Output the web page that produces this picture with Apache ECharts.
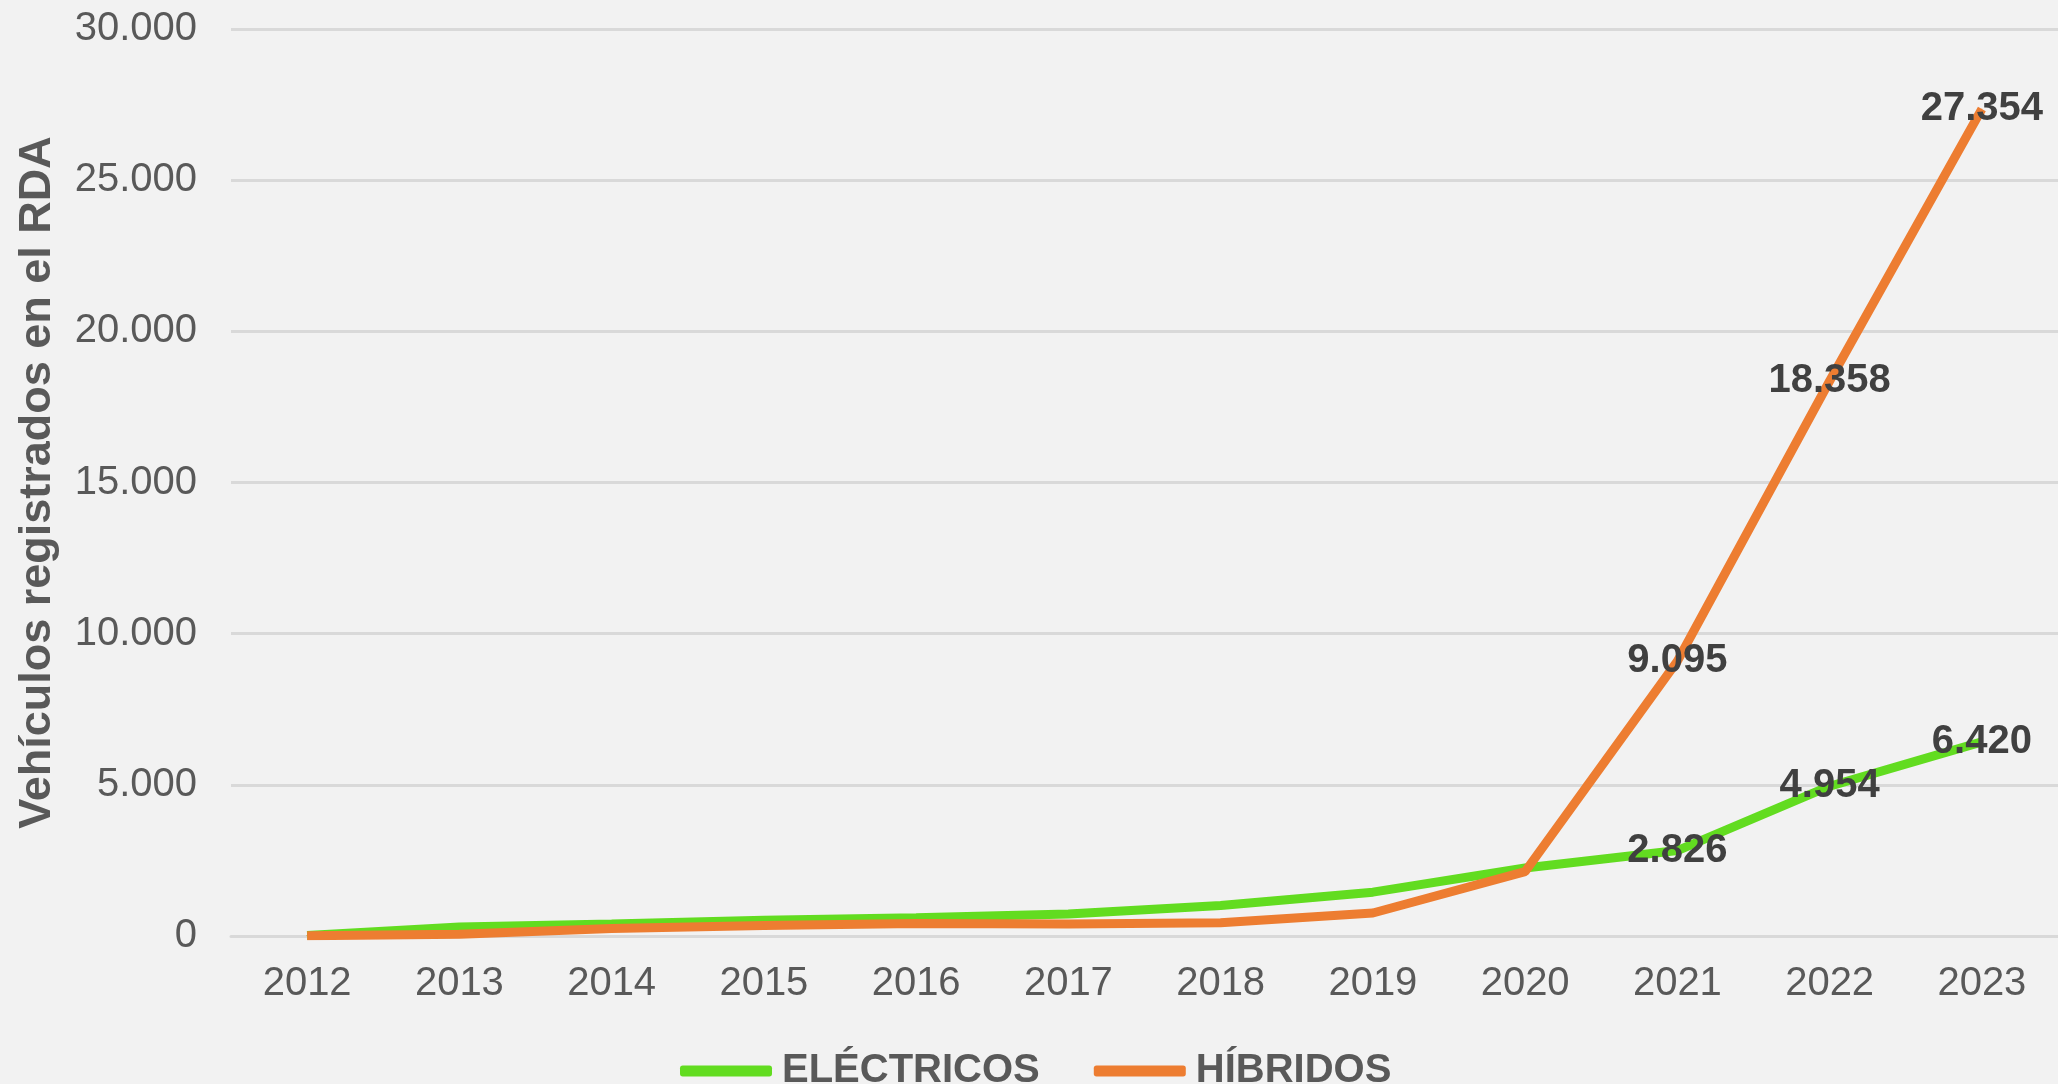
<!DOCTYPE html>
<html>
<head>
<meta charset="utf-8">
<script src="https://cdn.jsdelivr.net/npm/echarts@6/dist/echarts.min.js"></script>
<style>
html,body{margin:0;padding:0;background:#F2F2F2;}
#chart{width:2058px;height:1084px;}
</style>
</head>
<body>
<div id="chart"></div>
<script>
var categories = ['2012','2013','2014','2015','2016','2017','2018','2019','2020','2021','2022','2023'];
var electricos = [20, 300, 400, 520, 600, 730, 1010, 1450, 2250, 2826, 4954, 6420];
var hibridos = [10, 60, 250, 350, 410, 400, 440, 760, 2130, 9095, 18358, 27354];
var labelFromIndex = 9;
var yTicks = [0, 5000, 10000, 15000, 20000, 25000, 30000];

function fmt(v){
  return String(Math.round(v)).replace(/\B(?=(\d{3})+(?!\d))/g, '.');
}
function buildData(arr){
  return arr.map(function(v, i){
    return {value: v, label: {show: i >= labelFromIndex}};
  });
}
var FONT = 'Liberation Sans, Arial, sans-serif';
var chart = echarts.init(document.getElementById('chart'));
chart.setOption({
  backgroundColor: '#F2F2F2',
  animation: false,
  grid: {left: 231, right: -2, top: 29, bottom: 148, containLabel: false},
  legend: {
    data: ['ELÉCTRICOS', 'HÍBRIDOS'],
    left: 675,
    top: 1046,
    icon: 'roundRect',
    itemWidth: 92,
    itemHeight: 11,
    itemGap: 54,
    textStyle: {fontFamily: FONT, fontSize: 40, fontWeight: 'bold', color: '#595959', padding: [0,0,0,5]}
  },
  xAxis: {
    type: 'category',
    data: categories,
    boundaryGap: true,
    axisLine: {show: true, lineStyle: {color: '#D9D9D9', width: 3}},
    axisTick: {show: false},
    axisLabel: {fontFamily: FONT, fontSize: 40, color: '#595959', margin: 28}
  },
  yAxis: {
    type: 'value',
    min: yTicks[0],
    max: yTicks[yTicks.length - 1],
    interval: yTicks[1] - yTicks[0],
    name: 'Vehículos registrados en el RDA',
    nameLocation: 'middle',
    nameGap: 171,
    nameTextStyle: {fontFamily: FONT, fontSize: 45, fontWeight: 'bold', color: '#595959'},
    axisLine: {show: false},
    axisTick: {show: false},
    splitLine: {lineStyle: {color: '#D9D9D9', width: 3}},
    axisLabel: {fontFamily: FONT, fontSize: 40, color: '#595959', margin: 34, formatter: function(v){ return fmt(v); }}
  },
  series: [
    {
      name: 'ELÉCTRICOS',
      type: 'line',
      data: buildData(electricos),
      symbol: 'circle',
      symbolSize: 1,
      showSymbol: true,
      lineStyle: {color: '#62DC20', width: 9},
      itemStyle: {color: '#62DC20'},
      label: {position: 'inside', fontFamily: FONT, fontSize: 40, fontWeight: 'bold', color: '#404040', formatter: function(p){ return fmt(p.value); }},
      z: 3
    },
    {
      name: 'HÍBRIDOS',
      type: 'line',
      data: buildData(hibridos),
      symbol: 'circle',
      symbolSize: 1,
      showSymbol: true,
      lineStyle: {color: '#ED7D31', width: 9},
      itemStyle: {color: '#ED7D31'},
      label: {position: 'inside', fontFamily: FONT, fontSize: 40, fontWeight: 'bold', color: '#404040', formatter: function(p){ return fmt(p.value); }},
      z: 4
    }
  ]
});
</script>
</body>
</html>
